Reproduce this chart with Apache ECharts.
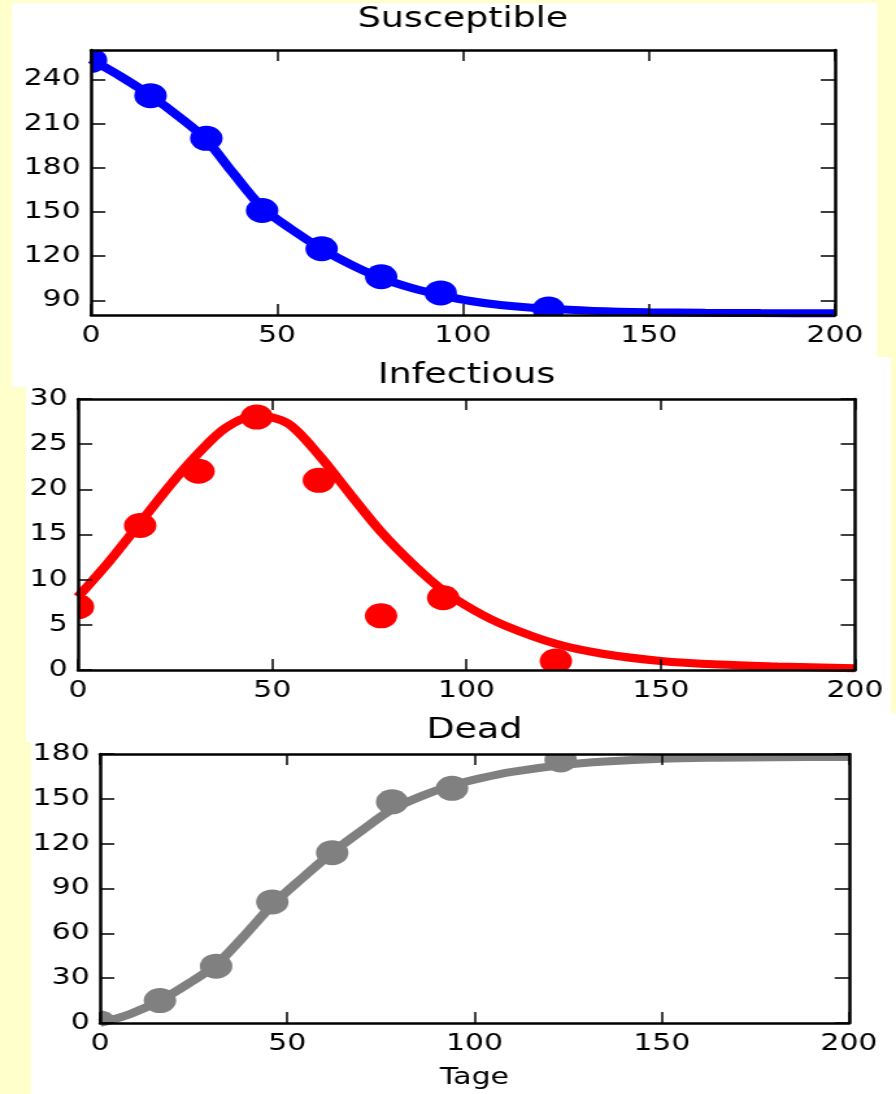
<!DOCTYPE html>
<html>
<head>
<meta charset="utf-8">
<script src="https://cdn.jsdelivr.net/npm/echarts@6/dist/echarts.min.js"></script>
<style>
html,body{margin:0;padding:0;background:#FFFFCC;overflow:hidden;}
#wrap{position:absolute;left:0;top:0;width:896px;height:1094px;overflow:hidden;}
#chart{position:absolute;left:0;top:0;width:690px;height:1094px;transform:scaleX(1.298551);transform-origin:0 0;}
</style>
</head>
<body>
<div id="wrap"><div id="chart"></div></div>
<script>
// ---- data ----
const days = [0, 16, 31, 46, 62, 78, 94, 123];
const susceptibleObs = [253, 229, 200, 151, 125, 106, 95, 84];
const infectiousObs = [7, 16, 22, 28, 21, 6, 8, 1];
const deadObs = [0, 15, 38, 81, 114, 148, 157, 176];

const fitDays = [0, 8, 16, 24, 31, 38, 46, 54, 62, 70, 78, 86, 94, 102, 110, 123, 135, 150, 165, 180, 200];
const susceptibleFit = [253.5, 242, 229, 214, 199, 177, 153, 138, 125, 114, 105, 98.5, 93.5, 89.5, 86.8, 84.2, 82.8, 81.9, 81.5, 81.3, 81.2];
const infectiousFit = [8.1, 12.0, 16.3, 20.6, 24.0, 26.8, 28.2, 27.3, 23.8, 19.5, 15.3, 11.8, 8.8, 6.6, 4.9, 2.9, 1.8, 1.0, 0.6, 0.4, 0.2];
const deadFit = [0, 6, 15, 27, 39, 57, 79, 97, 114, 129, 143, 152, 159, 164, 168, 172.5, 175, 176.8, 177.5, 177.9, 178];

const xTicks = [0, 50, 100, 150, 200];
const susceptibleTicks = [90, 120, 150, 180, 210, 240];
const infectiousTicks = [0, 5, 10, 15, 20, 25, 30];
const deadTicks = [0, 30, 60, 90, 120, 150, 180];

const titles = ['Susceptible', 'Infectious', 'Dead'];
const xName = 'Tage';

// ---- layout (reference pixels, converted to the unstretched canvas) ----
const SX = 896 / 690;
const ux = v => v / SX;
const FONT = '"DejaVu Sans", "Noto Sans", sans-serif';

const panels = [
  {x0: 12, x1: 877, y0: 3, y1: 387},
  {x0: 26, x1: 891, y0: 357, y1: 742},
  {x0: 31, x1: 896, y0: 713, y1: 1094}
];
const grids = [
  {x0: 91, x1: 835, y0: 50, y1: 315},
  {x0: 78, x1: 855, y0: 399, y1: 670},
  {x0: 100, x1: 849, y0: 754, y1: 1023}
];
const titleY = [20, 376, 731];
const yRanges = [[80, 260], [0, 30], [0, 180]];
const yTickSets = [susceptibleTicks, infectiousTicks, deadTicks];
const colors = ['#0000FF', '#FF0000', '#808080'];
const obsSets = [susceptibleObs, infectiousObs, deadObs];
const fitSets = [susceptibleFit, infectiousFit, deadFit];

const labelStyle = {color: '#000', fontSize: 23, fontFamily: FONT};

function axis(extra, showLabel, ticks, labelMargin) {
  return Object.assign({
    type: 'value',
    axisLine: {show: true, onZero: false, lineStyle: {color: '#000', width: 2.5}},
    axisTick: {show: true, inside: true, length: 11, customValues: ticks, lineStyle: {color: '#000', width: 1.5}},
    axisLabel: Object.assign({show: showLabel, margin: labelMargin, customValues: ticks}, labelStyle),
    splitLine: {show: false},
    z: 10
  }, extra);
}

const gridOpt = [], xAxes = [], yAxes = [], series = [];
grids.forEach((g, i) => {
  gridOpt.push({left: ux(g.x0), top: g.y0, width: ux(g.x1) - ux(g.x0), height: g.y1 - g.y0, containLabel: false});
  const xb = axis({gridIndex: i, position: 'bottom', min: 0, max: 200}, true, xTicks, 10);
  if (i === 2) {
    xb.name = xName;
    xb.nameLocation = 'middle';
    xb.nameGap = 44;
    xb.nameTextStyle = Object.assign({}, labelStyle);
  }
  xAxes.push(xb);
  xAxes.push(axis({gridIndex: i, position: 'top', min: 0, max: 200}, false, xTicks, 10));
  yAxes.push(axis({gridIndex: i, position: 'left', min: yRanges[i][0], max: yRanges[i][1]}, true, yTickSets[i], 8));
  yAxes.push(axis({gridIndex: i, position: 'right', min: yRanges[i][0], max: yRanges[i][1]}, false, yTickSets[i], 8));

  series.push({
    type: 'line',
    name: titles[i] + ' fit',
    xAxisIndex: 2 * i, yAxisIndex: 2 * i,
    data: fitDays.map((d, k) => [d, fitSets[i][k]]),
    smooth: 0.3,
    showSymbol: false,
    clip: true,
    lineStyle: {color: colors[i], width: 8},
    itemStyle: {color: colors[i]},
    z: 2
  });
  const col = colors[i];
  series.push({
    type: 'custom',
    name: titles[i],
    xAxisIndex: 2 * i, yAxisIndex: 2 * i,
    data: days.map((d, k) => [d, obsSets[i][k]]),
    clip: false,
    z: 3,
    renderItem: function (params, api) {
      const p = api.coord([api.value(0), api.value(1)]);
      const cs = params.coordSys;
      return {
        type: 'circle',
        shape: {cx: p[0], cy: p[1], r: 12.5},
        style: {fill: col},
        clipPath: {type: 'rect', shape: {x: cs.x, y: cs.y, width: cs.width, height: cs.height}}
      };
    }
  });
});

const graphics = [];
panels.forEach(p => {
  graphics.push({type: 'rect', silent: true, z: -10,
    shape: {x: ux(p.x0), y: p.y0, width: ux(p.x1) - ux(p.x0), height: p.y1 - p.y0},
    style: {fill: '#FFFFFF'}});
});
grids.forEach((g, i) => {
  graphics.push({type: 'text', silent: true, z: 20,
    x: (ux(g.x0) + ux(g.x1)) / 2, y: titleY[i],
    style: {text: titles[i], fontSize: 28, fontFamily: FONT, fill: '#000', align: 'center', verticalAlign: 'middle'}});
});

const chart = echarts.init(document.getElementById('chart'), null, {renderer: 'canvas'});
chart.setOption({
  backgroundColor: '#FFFFCC',
  animation: false,
  graphic: graphics,
  grid: gridOpt,
  xAxis: xAxes,
  yAxis: yAxes,
  series: series
});
</script>
</body>
</html>
